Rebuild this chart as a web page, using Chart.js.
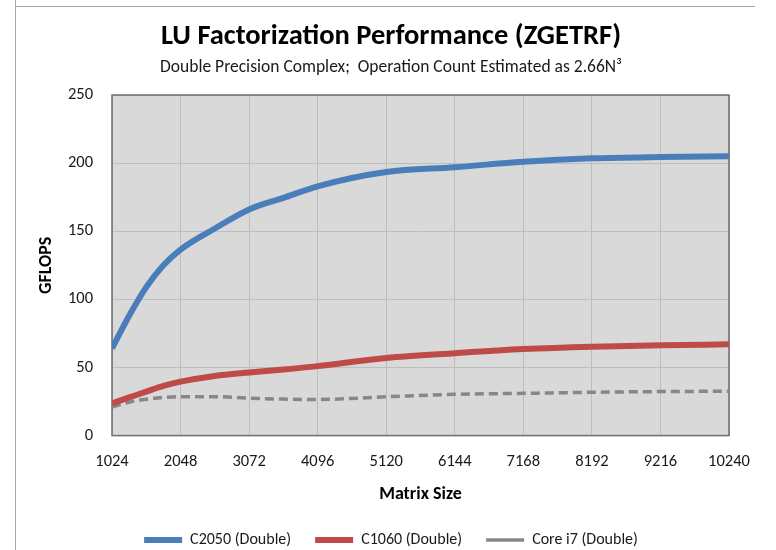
<!DOCTYPE html>
<html>
<head>
<meta charset="utf-8">
<script src="https://cdn.jsdelivr.net/npm/chart.js@4"></script>
<style>
  html, body { margin: 0; padding: 0; background: #ffffff; }
  #wrap { position: absolute; left: 0; top: 0; width: 776px; height: 550px; }
  .frameV { position: absolute; left: 15px; top: 0; width: 1px; height: 550px; background: #a6a6a6; }
  .frameH { position: absolute; left: 15px; top: 6px; width: 740px; height: 1px; background: #a6a6a6; }
</style>
</head>
<body>
<div id="wrap">
  <canvas id="c" width="776" height="550"></canvas>
  <div class="frameV"></div>
  <div class="frameH"></div>
</div>
<script>
const matrixSizes = [1024, 1280, 1536, 1792, 2048, 2560, 3072, 3584, 4096, 5120, 6144, 7168, 8192, 9216, 10240];
const c2050Double = [64, 88, 109, 125, 136.5, 152, 166, 174.5, 183, 193.5, 197, 201, 203.5, 204.5, 205];
const c1060Double = [23.7, 28, 32.3, 36.5, 39.6, 43.8, 46.3, 48.5, 51, 57, 60.5, 63.5, 65.3, 66.3, 67];
const corei7Double = [21, 24.5, 26.7, 28, 28.6, 28.6, 27.5, 26.8, 26.5, 28.5, 30.3, 31, 31.8, 32.3, 32.6];
const seriesNames = ['C2050 (Double)', 'C1060 (Double)', 'Core i7 (Double)'];
const xTickMin = 1024, xTickMax = 10240, xTickStep = 1024;
const yTickMin = 0, yTickMax = 250, yTickStep = 50;

const FONT = "Carlito, Calibri, Lato, 'Open Sans', sans-serif";
const PAD_LEFT = 53;

function pts(ys) { return matrixSizes.map((x, i) => ({ x: x, y: ys[i] })); }

const plotBg = {
  id: 'plotBg',
  beforeDraw(chart) {
    const a = chart.chartArea, ctx = chart.ctx;
    ctx.save();
    ctx.fillStyle = '#d9d9d9';
    ctx.fillRect(a.left, a.top, a.right - a.left, a.bottom - a.top);
    ctx.restore();
  },
  beforeDatasetsDraw(chart) {
    const a = chart.chartArea, ctx = chart.ctx;
    ctx.save();
    ctx.strokeStyle = '#6e6e6e';
    ctx.lineWidth = 1.5;
    ctx.strokeRect(a.left, a.top, a.right - a.left, a.bottom - a.top);
    ctx.restore();
  }
};

new Chart(document.getElementById('c'), {
  type: 'line',
  data: {
    datasets: [
      { label: seriesNames[0], data: pts(c2050Double), borderColor: '#4a7ebb', backgroundColor: '#4a7ebb', borderWidth: 6, pointRadius: 0, cubicInterpolationMode: 'monotone', fill: false },
      { label: seriesNames[1], data: pts(c1060Double), borderColor: '#be4b48', backgroundColor: '#be4b48', borderWidth: 6, pointRadius: 0, cubicInterpolationMode: 'monotone', fill: false },
      { label: seriesNames[2], data: pts(corei7Double), borderColor: '#878787', backgroundColor: '#878787', borderWidth: 3.5, borderDash: [9, 5], pointRadius: 0, cubicInterpolationMode: 'monotone', fill: false }
    ]
  },
  options: {
    responsive: false,
    animation: false,
    layout: { padding: { left: PAD_LEFT, right: 47, top: 0, bottom: 0 } },
    plugins: {
      title: {
        display: true,
        text: 'LU Factorization Performance (ZGETRF)',
        color: '#000000',
        font: { family: FONT, size: 28.5, weight: 'bold', lineHeight: 1.2 },
        padding: { top: 20, bottom: 0 }
      },
      subtitle: {
        display: true,
        text: 'Double Precision Complex;  Operation Count Estimated as 2.66N\u00B3',
        color: '#1a1a1a',
        font: { family: FONT, size: 17.5, lineHeight: 1.2 },
        padding: { top: 2.8, bottom: 17 }
      },
      legend: {
        position: 'bottom',
        maxHeight: 42,
        labels: {
          usePointStyle: true,
          pointStyle: 'line',
          pointStyleWidth: 38,
          color: '#1a1a1a',
          font: { family: FONT, size: 16 },
          padding: 24
        }
      },
      tooltip: { enabled: false }
    },
    scales: {
      x: {
        type: 'linear',
        min: xTickMin,
        max: xTickMax,
        ticks: {
          stepSize: xTickStep,
          color: '#1a1a1a',
          font: { family: FONT, size: 16.5 },
          padding: 16.5,
          maxRotation: 0,
          autoSkip: false,
          callback: v => String(v)
        },
        grid: { color: '#bdbdbd', lineWidth: 1, drawTicks: false },
        border: { display: false },
        title: {
          display: true,
          text: 'Matrix Size',
          color: '#000000',
          font: { family: FONT, size: 18, weight: 'bold', lineHeight: 1 },
          padding: { top: 0, bottom: 5 }
        },
        afterFit(scale) { scale.height = 72.4; }
      },
      y: {
        min: yTickMin,
        max: yTickMax,
        ticks: {
          stepSize: yTickStep,
          color: '#1a1a1a',
          font: { family: FONT, size: 16.5 },
          padding: 19
        },
        grid: { color: '#bdbdbd', lineWidth: 1, drawTicks: false },
        border: { display: false },
        title: {
          display: true,
          text: 'GFLOPS',
          color: '#000000',
          font: { family: FONT, size: 18, weight: 'bold', lineHeight: 1 },
          padding: { top: 46 - PAD_LEFT - 9, bottom: 0 }
        },
        afterFit(scale) { scale.width = 112 - PAD_LEFT; }
      }
    }
  },
  plugins: [plotBg]
});
</script>
</body>
</html>
